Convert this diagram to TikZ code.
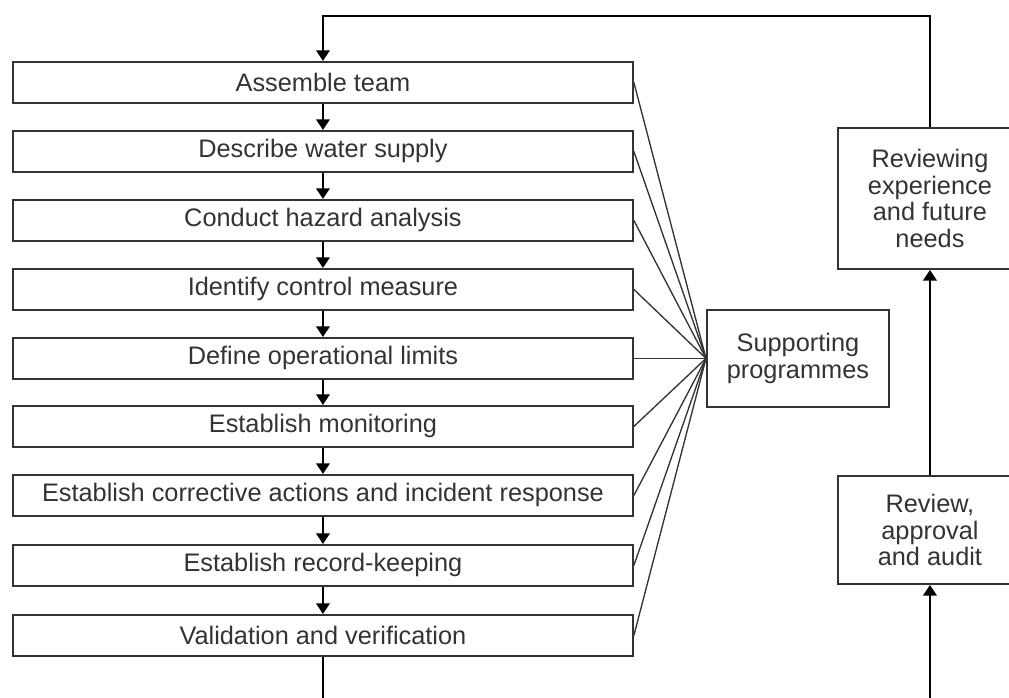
\documentclass[tikz,border=0pt]{standalone}
\usepackage{fontspec}
\setmainfont{Liberation Sans}
\usetikzlibrary{arrows.meta}
\begin{document}
\begin{tikzpicture}[x=0.75pt,y=-0.75pt,
  txt/.style={font=\fontsize{19pt}{20pt}\selectfont, text=black!80},
  stepbox/.style={draw=black!80, line width=1.4pt, minimum width=465pt, minimum height=30.75pt,
    inner sep=0pt, anchor=north west, txt},
  sidebox/.style={draw=black!80, line width=1.4pt, inner sep=0pt, anchor=north west,
    minimum width=138pt, align=center, txt},
  flow/.style={draw=black, line width=1.8pt, -{Triangle[length=8pt,width=10pt]}},
  plain/.style={draw=black, line width=1.8pt},
  fan/.style={draw=black!80, line width=1pt}]
  % frame
  \path[use as bounding box] (0,0) rectangle (1009,697);
  \clip (0,0) rectangle (1009,697);

  % main sequence of steps
  \node[stepbox] (b1) at (12,61)  {Assemble team};
  \node[stepbox] (b2) at (12,130) {Describe water supply};
  \node[stepbox] (b3) at (12,199) {Conduct hazard analysis};
  \node[stepbox] (b4) at (12,268) {Identify control measure};
  \node[stepbox] (b5) at (12,337) {Define operational limits};
  \node[stepbox] (b6) at (12,405) {Establish monitoring};
  \node[stepbox] (b7) at (12,474) {Establish corrective actions and incident response};
  \node[stepbox] (b8) at (12,544) {Establish record-keeping};
  \node[stepbox] (b9) at (12,614) {Validation and verification};

  % side boxes
  \node[sidebox, minimum width=136.5pt, minimum height=72.75pt] (sup) at (706,309)
    {Supporting\\programmes};
  \node[sidebox, minimum height=105.75pt] (rev) at (837,127)
    {Reviewing\\experience\\and future\\needs};
  \node[sidebox, minimum height=81pt] (aud) at (837,475)
    {Review,\\approval\\and audit};

  % helper points
  \coordinate (top) at (0,16);
  \coordinate (bl) at (321,700);
  \coordinate (br) at (929,700);

  % arrows down the sequence
  \foreach \a/\b in {b1/b2,b2/b3,b3/b4,b4/b5,b5/b6,b6/b7,b7/b8,b8/b9}
    \draw[flow] (\a.south) -- (\b.north);

  % fan of links into the supporting programmes
  \foreach \a in {b1,b2,b3,b4,b5,b6,b7,b8,b9}
    \draw[fan] (\a.east) -- (sup.west);

  % review loop
  \draw[plain] (b9.south) -- (b9.south |- bl);
  \draw[flow] (aud.south |- br) -- (aud.south);
  \draw[flow] (aud.north) -- (rev.south);
  \draw[flow] (rev.north) |- (b1.north |- top) -- (b1.north);
\end{tikzpicture}
\end{document}
